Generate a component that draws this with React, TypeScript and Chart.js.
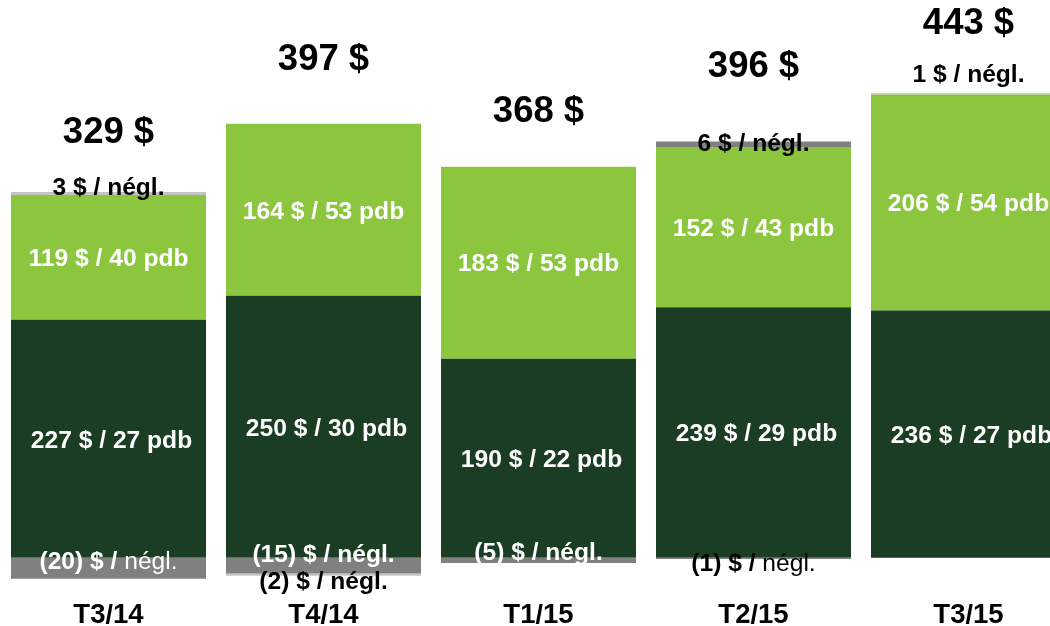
import React, { useEffect, useRef } from "react";
import { Chart, registerables } from "chart.js";

Chart.register(...registerables);

// ---- data ----
const categories = ["T3/14", "T4/14", "T1/15", "T2/15", "T3/15"];
const totals = [329, 397, 368, 396, 443];
const coreValues = [227, 250, 190, 239, 236];
const corePdb = [27, 30, 22, 29, 27];
const growthValues = [119, 164, 183, 152, 206];
const growthPdb = [40, 53, 53, 43, 54];
const otherTop = [3, 0, 0, 6, 1];
const otherNeg = [-20, -15, -5, -1, 0];
const otherNeg2 = [0, -2, 0, 0, 0];

// ---- styles ----
const FONT = "'Liberation Sans', Arial, Helvetica, sans-serif";
const DARK_GREEN = "#1a3d24";
const LIGHT_GREEN = "#8cc63f";
const DARK_GRAY = "#808080";
const LIGHT_GRAY = "#c4c4c4";
const otherTopColors = [LIGHT_GRAY, LIGHT_GRAY, LIGHT_GRAY, DARK_GRAY, LIGHT_GRAY];
const totalOffsets = [-62, -67, -58, -78, -72];
const topLabelOffsets = [-6, 0, 0, 1, -20];
const negLabelStyle = [
  { dy: 2, color: "#ffffff", boldNegl: false },
  { dy: -5, color: "#ffffff", boldNegl: true },
  { dy: -7, color: "#ffffff", boldNegl: true },
  { dy: 4, color: "#000000", boldNegl: false },
  { dy: 0, color: "#000000", boldNegl: true },
];
const neg2LabelDy = 22;
const SEG_SIZE = 24.6;
const TOTAL_SIZE = 36.5;
const CORE_DX = 3;

const W = 1080;
const H = 626;

type Part = [string, boolean];

function drawParts(ctx: CanvasRenderingContext2D, parts: Part[], cx: number, cy: number, size: number, color: string) {
  const widths = parts.map(([t, b]) => {
    ctx.font = `${b ? "bold " : ""}${size}px ${FONT}`;
    return ctx.measureText(t).width;
  });
  const total = widths.reduce((a, b) => a + b, 0);
  let x = cx - total / 2;
  const baseY = cy + size * 0.358;
  ctx.textAlign = "left";
  ctx.textBaseline = "alphabetic";
  ctx.fillStyle = color;
  parts.forEach(([t, b], i) => {
    ctx.font = `${b ? "bold " : ""}${size}px ${FONT}`;
    ctx.fillText(t, x, baseY);
    x += widths[i];
  });
}

const labelPlugin = {
  id: "segmentLabels",
  afterDatasetsDraw(chart: any) {
    const ctx: CanvasRenderingContext2D = chart.ctx;
    const y = chart.scales.y;
    const metaCore = chart.getDatasetMeta(2);
    const metaGrowth = chart.getDatasetMeta(3);
    ctx.save();
    categories.forEach((_, j) => {
      const cx = metaCore.data[j].x;
      const zero = y.getPixelForValue(0);
      const topVal = coreValues[j] + growthValues[j] + otherTop[j];
      const topPx = y.getPixelForValue(topVal);

      const ce = metaCore.data[j];
      drawParts(ctx, [[`${coreValues[j]} $ / ${corePdb[j]} pdb`, true]], cx + CORE_DX, (ce.y + ce.base) / 2, SEG_SIZE, "#ffffff");
      const ge = metaGrowth.data[j];
      drawParts(ctx, [[`${growthValues[j]} $ / ${growthPdb[j]} pdb`, true]], cx, (ge.y + ge.base) / 2, SEG_SIZE, "#ffffff");
      if (otherTop[j] !== 0) {
        drawParts(ctx, [[`${otherTop[j]} $ / négl.`, true]], cx, topPx + topLabelOffsets[j], SEG_SIZE, "#000000");
      }
      if (otherNeg[j] !== 0) {
        const s = negLabelStyle[j];
        drawParts(
          ctx,
          [[`(${Math.abs(otherNeg[j])}) $ / `, true], ["négl.", s.boldNegl]],
          cx,
          zero + s.dy,
          SEG_SIZE,
          s.color
        );
      }
      if (otherNeg2[j] !== 0) {
        drawParts(ctx, [[`(${Math.abs(otherNeg2[j])}) $ / négl.`, true]], cx, zero + neg2LabelDy, SEG_SIZE, "#000000");
      }
      drawParts(ctx, [[`${totals[j]} $`, true]], cx, topPx + totalOffsets[j], TOTAL_SIZE, "#000000");
    });
    ctx.restore();
  },
};

export default function App() {
  const ref = useRef<HTMLCanvasElement | null>(null);
  useEffect(() => {
    if (!ref.current) return;
    const chart = new Chart(ref.current, {
      type: "bar",
      data: {
        labels: categories,
        datasets: [
          { label: "neg", data: otherNeg, backgroundColor: DARK_GRAY },
          { label: "neg2", data: otherNeg2, backgroundColor: LIGHT_GRAY },
          { label: "core", data: coreValues, backgroundColor: DARK_GREEN },
          { label: "growth", data: growthValues, backgroundColor: LIGHT_GREEN },
          { label: "other", data: otherTop, backgroundColor: otherTopColors },
        ],
      },
      options: {
        responsive: false,
        devicePixelRatio: 1,
        animation: false,
        layout: { padding: { left: 1, right: 4, top: 0, bottom: 0 } },
        datasets: { bar: { categoryPercentage: 1, barPercentage: 0.907, borderWidth: 0 } },
        plugins: { legend: { display: false }, tooltip: { enabled: false } },
        scales: {
          x: {
            stacked: true,
            grid: { display: false, drawTicks: false },
            border: { display: false },
            ticks: {
              color: "#000000",
              padding: 0,
              font: { family: FONT, size: 27.5, weight: "bold", lineHeight: 0.8 },
            },
          },
          y: { stacked: true, display: false, min: -44, max: 532 },
        },
      },
      plugins: [labelPlugin],
    } as any);
    return () => chart.destroy();
  }, []);
  return (
    <div style={{ position: "absolute", left: 0, top: 0, width: 1050, height: 626, overflow: "hidden", background: "#ffffff" }}>
      <canvas ref={ref} width={W} height={H} style={{ display: "block", width: W, height: H }} />
    </div>
  );
}
